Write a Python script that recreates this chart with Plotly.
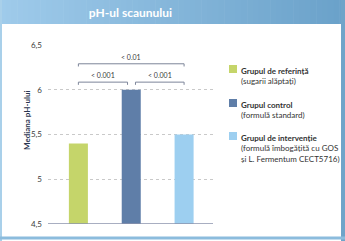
import plotly.graph_objects as go

categories = ["Grupul de referință", "Grupul control", "Grupul de intervenție"]
values = [5.4, 6.0, 5.5]
colors = ["#c5d56a", "#5f7ea8", "#9dcff0"]
legend_sub = ["(sugarii alăptați)", "(formulă standard)",
              "(formulă îmbogățită cu GOS<br>și L. Fermentum CECT5716)"]
tick_vals = [4.5, 5, 5.5, 6, 6.5]
tick_text = ["4,5", "5", "5,5", "6", "6,5"]
# brackets: (x_start_index, x_end_index, y_level, label)
brackets = [(0, 2, 6.29, "< 0.01"), (0, 0.93, 6.085, "< 0.001"), (1.08, 2, 6.085, "< 0.001")]
title = "pH-ul scaunului"
ytitle = "Mediana pH-ului"

W, H = 345, 241
L, R, T, B = 48, 132, 45, 17
pw, ph = W - L - R, H - T - B

def px(x):
    return (x - L) / pw

def py(y):
    return (H - B - y) / ph

fig = go.Figure()
fig.add_trace(go.Bar(x=[0, 1, 2], y=values, marker=dict(color=colors, line=dict(width=0)),
                     width=0.36, showlegend=False, hoverinfo="skip"))

shapes = []
def prect(x0, y0, x1, y1, color):
    return dict(type="rect", xref="paper", yref="paper", x0=px(x0), x1=px(x1),
                y0=py(y1), y1=py(y0), fillcolor=color, line=dict(width=0), layer="above")
# title gradient
n = 60
c0 = (0x9f, 0xcb, 0xeb)
c1 = (0x6b, 0xa2, 0xca)
for i in range(n):
    t = i / (n - 1)
    c = tuple(int(c0[k] + (c1[k] - c0[k]) * t) for k in range(3))
    shapes.append(prect(W * i / n, 0, W * (i + 1) / n + 0.6, 24, "rgb(%d,%d,%d)" % c))
# frame
shapes.append(prect(0, 0, 2, H, "#a9d0ea"))
shapes.append(prect(W - 4, 0, W, H, "#6fa4c9"))
shapes.append(prect(0, 236.5, W, 239.5, "#8cbcdd"))
# bottom axis line
shapes.append(dict(type="line", xref="paper", yref="y", x0=0, x1=1, y0=4.5, y1=4.5,
                   line=dict(color="#8b93ad", width=1.5)))
annotations = []
# brackets
for x0, x1, yl, lab in brackets:
    d = 0.03
    shapes.append(dict(type="path", xref="x", yref="y",
                       path=f"M {x0},{yl-d} L {x0},{yl} L {x1},{yl} L {x1},{yl-d}",
                       line=dict(color="#7d8599", width=1)))
    annotations.append(dict(x=(x0 + x1) / 2, y=yl + 0.01, xref="x", yref="y", text=lab,
                            showarrow=False, yanchor="bottom",
                            font=dict(size=7, color="#3a3a3a", family="Lato")))
# legend
leg_y = [69, 103, 136]
for i, cat in enumerate(categories):
    yy = leg_y[i]
    shapes.append(prect(229, yy - 4, 237, yy + 4, colors[i]))
    annotations.append(dict(x=px(239), y=py(yy - 5.5), xref="paper", yref="paper",
                            text=f"<b>{cat}</b><br>{legend_sub[i]}", showarrow=False,
                            xanchor="left", yanchor="top", align="left",
                            font=dict(size=8, color="#333333", family="Lato")))
annotations.append(dict(x=px(20), y=py(121), xref="paper", yref="paper", text=f"<b>{ytitle}</b>",
                        showarrow=False, textangle=-90,
                        font=dict(size=8, color="#2a3550", family="Lato")))

fig.update_layout(
    width=W, height=H, margin=dict(l=L, r=R, t=T, b=B),
    title=dict(text=f"<b>{title}</b>", x=0.5, xref="paper", xanchor="center",
               y=1 - 12.5 / H, yref="container", yanchor="middle",
               font=dict(size=12, color="white", family="Lato")),
    paper_bgcolor="white", plot_bgcolor="rgba(0,0,0,0)",
    shapes=shapes, annotations=annotations,
    xaxis=dict(range=[-0.575, 2.547], showticklabels=False, showgrid=False, zeroline=False,
               fixedrange=True),
    yaxis=dict(range=[4.5, 6.5], tickvals=tick_vals, ticktext=tick_text, showgrid=True,
               gridcolor="#c9c9c9", griddash="dot", gridwidth=1, zeroline=False,
               tickfont=dict(size=8, color="#3a3a3a", family="Lato"), ticks="",
               ticklabelstandoff=5, fixedrange=True),
    font=dict(family="Lato"),
)
fig.write_html("out.html", config={"displayModeBar": False})
